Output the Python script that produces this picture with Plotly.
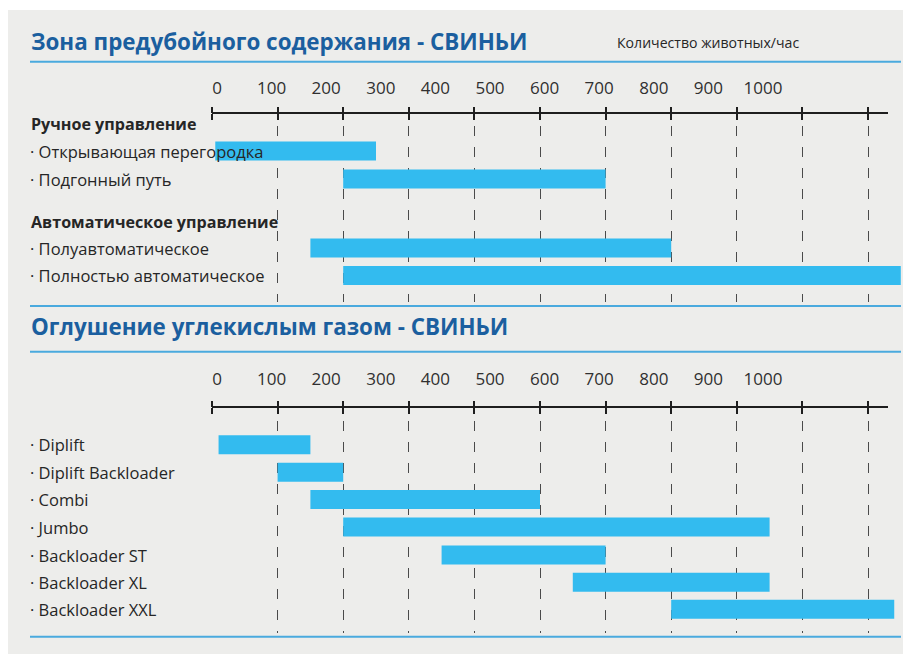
import plotly.graph_objects as go

# ---------------- data ----------------
TITLE_1 = "Зона предубойного содержания - СВИНЬИ"
TITLE_2 = "Оглушение углекислым газом - СВИНЬИ"
UNIT_LABEL = "Количество животных/час"

TICK_VALUES = [0, 100, 200, 300, 400, 500, 600, 700, 800, 900, 1000]
TICK_LABELS = ["0", "100", "200", "300", "400", "500", "600", "700", "800", "900", "1000"]
GRID_VALUES = [100, 200, 300, 400, 500, 600, 700, 800, 900, 1000]

P1_GROUPS = ["Ручное управление", "Автоматическое управление"]
P1_ITEMS = ["Открывающая перегородка", "Подгонный путь",
            "Полуавтоматическое", "Полностью автоматическое"]
P1_START = [5, 200, 150, 200]
P1_END = [250, 600, 700, 1050]

P2_ITEMS = ["Diplift", "Diplift Backloader", "Combi", "Jumbo",
            "Backloader ST", "Backloader XL", "Backloader XXL"]
P2_START = [10, 100, 150, 200, 350, 550, 700]
P2_END = [150, 200, 500, 850, 600, 850, 1040]

# ---------------- layout constants ----------------
# The page body adds an 8px margin, so the figure is 895x646 and every
# position below is given in window pixels and shifted by that margin.
WIN_W, WIN_H = 911, 662
OFF = 8
W, H = WIN_W - 2 * OFF, WIN_H - 2 * OFF
FONT = "Open Sans"
BAR_COLOR = "#33bbef"
TEXT_COLOR = "#262626"
TITLE_COLOR = "#1b5f9f"
RULE_COLOR = "#4aaade"
GRID_COLOR = "#4a4a4a"


def fy(py):
    return 1 - (py - OFF) / H


def fx(px):
    return (px - OFF) / W


# data axis: value 0 at window px 212, value 1000 at window px 868
SC = (868 - 212) / 1000.0
XR = [-(212 - OFF) / SC, (W - (212 - OFF)) / SC]
# label axis: value 0 at window px 217, value 1000 at window px 763
LSC = (763 - 217) / 1000.0
LR = [-(217 - OFF) / LSC, (W - (217 - OFF)) / LSC]

P1 = dict(axis=113, label=97, top=126, bottom=302,
          groups_y=[123.5, 221.5], items_y=[151, 179, 248, 275.5])
P2 = dict(axis=407, label=388, top=421, bottom=633,
          items_y=[444.7, 472.3, 499.4, 527, 555, 582.3, 609.3])
BAR_H = 19

fig = go.Figure()

fig.add_trace(go.Bar(
    orientation="h", y=P1["items_y"],
    x=[e - s for s, e in zip(P1_START, P1_END)], base=P1_START,
    width=BAR_H, marker=dict(color=BAR_COLOR, line=dict(width=0)),
    xaxis="x", yaxis="y", showlegend=False, hoverinfo="skip"))
fig.add_trace(go.Bar(
    orientation="h", y=P2["items_y"],
    x=[e - s for s, e in zip(P2_START, P2_END)], base=P2_START,
    width=BAR_H, marker=dict(color=BAR_COLOR, line=dict(width=0)),
    xaxis="x2", yaxis="y2", showlegend=False, hoverinfo="skip"))

# empty helper traces so that the overlaid tick / label axes are drawn
for xa, ya in [("x3", "y"), ("x4", "y"), ("x5", "y"),
               ("x6", "y2"), ("x7", "y2"), ("x8", "y2")]:
    fig.add_trace(go.Scatter(x=[None], y=[None], mode="markers", xaxis=xa,
                             yaxis=ya, showlegend=False, hoverinfo="skip"))

grid_axis = dict(range=XR, domain=[0, 1], showgrid=True, gridcolor=GRID_COLOR,
                 gridwidth=1.4, griddash="10px,11px", tickmode="array",
                 tickvals=GRID_VALUES, showticklabels=False, ticks="",
                 showline=False, zeroline=False, fixedrange=True)


def tick_axis(base, pos_px, side):
    return dict(overlaying=base, anchor="free", position=fy(pos_px), side=side,
                range=XR, tickmode="array", tickvals=TICK_VALUES,
                showticklabels=False, ticks="outside", ticklen=6, tickwidth=2,
                tickcolor="#1e1e1e", showgrid=False, zeroline=False,
                showline=False, fixedrange=True)


def label_axis(base, pos_px):
    return dict(overlaying=base, anchor="free", position=fy(pos_px), side="top",
                range=LR, tickmode="array", tickvals=TICK_VALUES,
                ticktext=TICK_LABELS, ticks="", showgrid=False, zeroline=False,
                showline=False, fixedrange=True,
                tickfont=dict(family=FONT, size=17, color="#303030"))


shapes = [
    # scanned page background
    dict(type="rect", xref="paper", yref="paper", x0=0, x1=1, y0=0,
         y1=fy(10), fillcolor="#ededeb", line=dict(width=0), layer="below"),
]
for ypx in [61.7, 306, 351.7, 636.7]:
    shapes.append(dict(type="line", xref="paper", yref="paper", x0=fx(30),
                       x1=fx(901), y0=fy(ypx), y1=fy(ypx),
                       line=dict(color=RULE_COLOR, width=2)))
for xa, panel in [("x", P1), ("x2", P2)]:
    shapes.append(dict(type="line", xref=xa, yref="paper", x0=0,
                       x1=(888 - 212) / SC, y0=fy(panel["axis"]),
                       y1=fy(panel["axis"]), line=dict(color="#1e1e1e", width=2)))

annotations = [
    dict(text="<b>" + TITLE_1 + "</b>", x=fx(29), y=fy(42)),
    dict(text="<b>" + TITLE_2 + "</b>", x=fx(29), y=fy(326)),
]
for a in annotations:
    a.update(xref="paper", yref="paper", xanchor="left", yanchor="middle",
             showarrow=False, font=dict(family=FONT, size=22.4, color=TITLE_COLOR))
annotations.append(dict(text=UNIT_LABEL, x=fx(615), y=fy(43), xref="paper",
                        yref="paper", xanchor="left", yanchor="middle",
                        showarrow=False,
                        font=dict(family=FONT, size=14.1, color=TEXT_COLOR)))
for name, ypos in zip(P1_GROUPS, P1["groups_y"]):
    annotations.append(dict(text="<b>" + name + "</b>", x=fx(29), y=fy(ypos),
                            xref="paper", yref="paper", xanchor="left",
                            yanchor="middle", showarrow=False,
                            font=dict(family=FONT, size=16.1, color=TEXT_COLOR)))
for names, ys, yref in [(P1_ITEMS, P1["items_y"], "y"),
                        (P2_ITEMS, P2["items_y"], "y2")]:
    for name, ypos in zip(names, ys):
        annotations.append(dict(text="· " + name, x=fx(28), y=ypos,
                                xref="paper", yref=yref, xanchor="left",
                                yanchor="middle", showarrow=False,
                                font=dict(family=FONT, size=16.5,
                                          color=TEXT_COLOR)))

fig.update_layout(
    width=W, height=H, autosize=False,
    margin=dict(l=0, r=0, t=0, b=0, pad=0),
    paper_bgcolor="#ffffff", plot_bgcolor="rgba(0,0,0,0)",
    showlegend=False, barmode="overlay",
    font=dict(family=FONT, color=TEXT_COLOR),
    xaxis=dict(anchor="y", **grid_axis),
    xaxis2=dict(anchor="y2", **grid_axis),
    yaxis=dict(domain=[fy(P1["bottom"]), fy(P1["top"])],
               range=[P1["bottom"], P1["top"]], visible=False, fixedrange=True),
    yaxis2=dict(domain=[fy(P2["bottom"]), fy(P2["top"])],
                range=[P2["bottom"], P2["top"]], visible=False, fixedrange=True),
    xaxis3=tick_axis("x", P1["axis"], "top"),
    xaxis4=tick_axis("x", P1["axis"], "bottom"),
    xaxis5=label_axis("x", P1["label"]),
    xaxis6=tick_axis("x2", P2["axis"], "top"),
    xaxis7=tick_axis("x2", P2["axis"], "bottom"),
    xaxis8=label_axis("x2", P2["label"]),
    shapes=shapes,
    annotations=annotations,
)

fig.write_html("out.html", config=dict(displayModeBar=False))
